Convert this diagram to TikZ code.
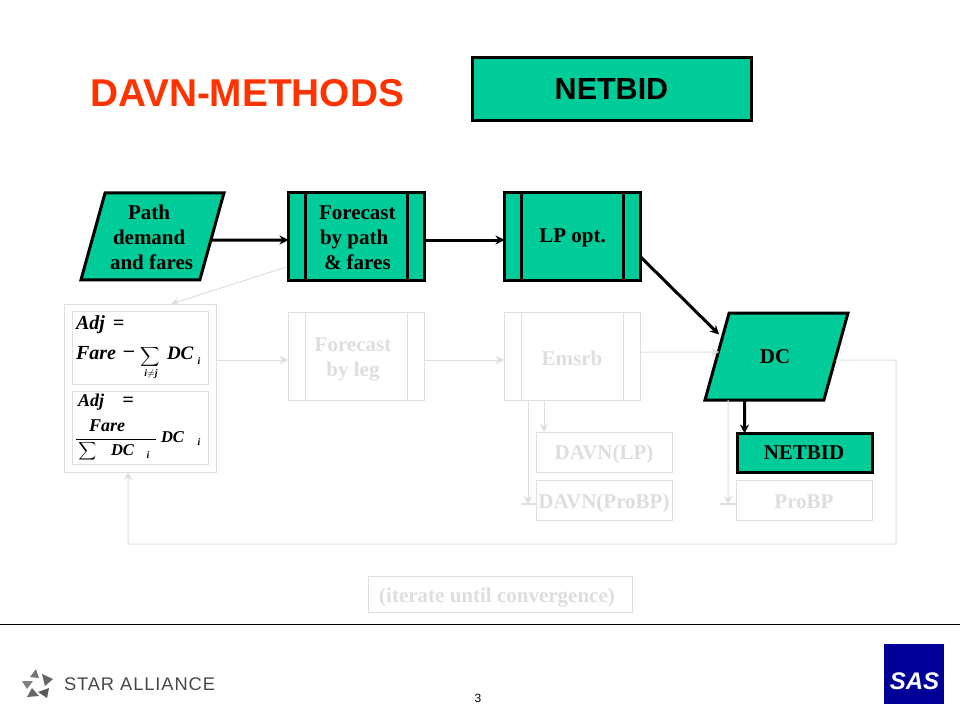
\documentclass[tikz,border=0pt]{standalone}
\usepackage{fontspec}
\setmainfont{Liberation Serif}
\newfontfamily\arialf{Liberation Sans}
\usetikzlibrary{shapes.geometric,arrows.meta,calc}
\definecolor{teal}{HTML}{00CC99}
\definecolor{ghost}{HTML}{DEDEDE}
\definecolor{titlered}{HTML}{FF3300}
\definecolor{sasblue}{HTML}{000099}
\newcommand{\sz}[1]{\fontsize{#1}{25}\selectfont}
\tikzset{
  every node/.style={outer sep=0pt,inner sep=0pt},
  active/.style={draw=black,line width=3pt,fill=teal},
  faded/.style={draw=ghost,line width=1pt,fill=white},
  boxat/.style 2 args={rectangle,minimum width=#1,minimum height=#2},
  procbars/.style={path picture={
    \draw[line width=#1]
      ([xshift=17pt]path picture bounding box.north west) -- ([xshift=17pt]path picture bounding box.south west)
      ([xshift=-17pt]path picture bounding box.north east) -- ([xshift=-17pt]path picture bounding box.south east);}},
  para/.style={trapezium,trapezium left angle=72,trapezium right angle=108,trapezium stretches=true,minimum width=143pt,minimum height=87pt,inner sep=1pt},
  lbl/.style={font=\bfseries\sz{21},align=left},
  glbl/.style={lbl,text=ghost,align=center},
  blackarrow/.style={line width=3pt,-{Stealth[length=9pt,width=9pt]}},
  greyarrow/.style={draw=ghost,line width=1pt,-{Stealth[length=8pt,width=8pt]}},
  greystub/.style={draw=ghost,line width=2pt},
  fm/.style={font=\bfseries\itshape\sz{#1}},
  fm/.default=20,
  logotri/.style={fill=#1,draw=none}
}
\begin{document}
\begin{tikzpicture}[x=1pt,y=-1pt]
\useasboundingbox (0,0) rectangle (960,720);
% title
\node[anchor=center,text=titlered,font=\arialf\bfseries\sz{38.8}] (title) at (247,93) {DAVN-METHODS};
\node[active,boxat={279pt}{63pt}] (topbox) at (612,88.5) {};
\node[font=\arialf\bfseries\sz{30.5}] (toplabel) at (611.5,89) {NETBID};
% active row
\node[para,active] (path) at (152.5,236.3) {\phantom{M}};
\node[lbl,anchor=west] (pathlabel) at (110,237.5) {\hspace*{18pt}Path\\\hspace*{3pt}demand\\and fares};
\node[active,boxat={136pt}{87.5pt},procbars=3pt] (fpath) at (356.5,236.3) {};
\node[lbl,anchor=west] (fpathlabel) at (319,238) {Forecast\\\hspace*{1pt}by path\\\hspace*{5pt}\&\ fares};
\node[active,boxat={136pt}{87.5pt},procbars=3pt] (lp) at (572.5,236.3) {};
\node[lbl] (lplabel) at (572.5,238) {LP opt.};
\node[para,active] (dc) at (776.5,356.5) {\phantom{M}};
\node[lbl] (dclabel) at (775,357) {DC};
\node[active,boxat={135pt}{39pt}] (netbid) at (804.5,453) {};
\node[lbl] (netbidlabel) at (804,453) {NETBID};
% faded boxes
\node[faded,boxat={152pt}{168pt}] (formulas) at (140,388) {};
\node[faded,boxat={136pt}{73pt}] (f1) at (140,347.5) {};
\node[faded,boxat={136pt}{73pt}] (f2) at (140,427.5) {};
\node[faded,boxat={136pt}{88pt},procbars=1pt,draw=ghost] (fleg) at (356,356) {};
\node[glbl] (fleglabel) at (353,359) {Forecast\\by leg};
\node[faded,boxat={136pt}{88pt},procbars=1pt,draw=ghost] (emsrb) at (572,356) {};
\node[glbl] (emsrblabel) at (572,358) {Emsrb};
\node[faded,boxat={136pt}{40pt}] (davnlp) at (604,452) {};
\node[glbl] (davnlplabel) at (604,454.5) {DAVN(LP)};
\node[faded,boxat={136pt}{40pt}] (davnpro) at (604,500) {};
\node[glbl] (davnprolabel) at (604,503) {DAVN(ProBP)};
\node[faded,boxat={136pt}{40pt}] (probp) at (804,500) {};
\node[glbl] (probplabel) at (804,501.5) {ProBP};
\node[faded,boxat={264pt}{36pt}] (iter) at (500,594) {};
\node[glbl] (iterlabel) at (497,598) {(iterate until convergence)};
% formula 1
\node[fm,anchor=west] (a1) at (76,325) {Adj};
\node[fm,anchor=center] (e1) at (118.5,325) {=};
\node[fm,anchor=west] (fa1) at (76,353) {Fare};
\node[fm,anchor=center] (m1) at (129,354) {–};
\node (s1) at (150.5,357) {\scalebox{1.35}{$\displaystyle\sum$}};
\node[fm=10,anchor=center] (ij) at (151,374) {i$\neq$j};
\node[fm=19,anchor=west] (d1) at (167,353) {DC};
\node[fm=10] (i1) at (199,361) {i};
% formula 2
\node[fm=18,anchor=west] (a2) at (78,402) {Adj};
\node[fm,anchor=center] (e2) at (128,402) {=};
\node[fm=18] (fa2) at (107,426) {Fare};
\coordinate (barl) at (76,439);
\coordinate (barr) at (156,439);
\draw[line width=0.8pt] (barl) -- (barr);
\node (s2) at (87.5,451) {\scalebox{1.25}{$\displaystyle\sum$}};
\node[fm=16.5,anchor=west] (d2) at (111,450) {DC};
\node[fm=10] (i2) at (148,455) {i};
\node[fm=16.5,anchor=west] (d3) at (161,437) {DC};
\node[fm=10] (i3) at (199,442) {i};
% faded connectors
\coordinate (loopa) at (896,360);
\coordinate (loopb) at (896,544);
\coordinate (loopc) at (128,544);
\draw[greyarrow] ([xshift=-3pt,yshift=-31pt]fpath.west) -- ([xshift=107pt]formulas.north west);
\draw[greyarrow] ([yshift=28pt]formulas.east) -- ([yshift=-4pt]fleg.west);
\draw[greyarrow] ([yshift=-4pt]fleg.east) -- ([yshift=-4pt]emsrb.west);
\draw[greyarrow] ([yshift=4pt]emsrb.east) -- ([yshift=4.5pt,xshift=2pt]dc.west);
\draw[greyarrow] ([xshift=-28pt]emsrb.south) -- ([xshift=-60pt]davnlp.north);
\draw[greyarrow] ([xshift=-44pt]emsrb.south) -- ([xshift=-76pt,yshift=-4pt]davnpro.center);
\draw[greystub] ([yshift=-4pt]davnpro.west) -- ++(-15,0);
\draw[greyarrow] ([xshift=-48.5pt]dc.south) -- ([xshift=-76pt,yshift=-4pt]probp.center);
\draw[greystub] ([yshift=-4pt]probp.west) -- ++(-16,0);
\draw[greyarrow] ([yshift=-3.5pt]dc.east) -- (loopa) -- (loopb) -- (loopc) -- ([xshift=-12pt]formulas.south);
% active connectors
\draw[blackarrow] ([yshift=-3.7pt]path.east) -- ([yshift=-3.7pt]fpath.west);
\draw[blackarrow] ([yshift=-3.7pt]fpath.east) -- ([yshift=-3.7pt]lp.west);
\draw[blackarrow] ([yshift=-20.5pt]lp.east) -- ([xshift=2pt,yshift=22pt]dc.west);
\draw[blackarrow] ([xshift=-32pt]dc.south) -- ([xshift=-60pt]netbid.north);
% footer
\coordinate (rulel) at (0,624);
\coordinate (ruler) at (960,624);
\draw[line width=1pt] (rulel) -- (ruler);
\node[font=\arialf\sz{12}] (pageno) at (478,698) {3};
\node[anchor=west,text=black!72,font={\arialf\addfontfeature{LetterSpace=5}\sz{18.3}}] (star) at (64,684.5) {STAR ALLIANCE};
\fill[logotri=black!55] (36,669) -- (39,678) -- (30,677) -- cycle;
\fill[logotri=black!60] (42,674) -- (53,679) -- (45,686) -- cycle;
\fill[logotri=black!65] (38,692) -- (49,688) -- (47,698) -- cycle;
\fill[logotri=black!60] (27,697) -- (32,688) -- (39,696) -- cycle;
\fill[logotri=black!50] (22,681) -- (33,681) -- (27,689) -- cycle;
\node[fill=sasblue,minimum width=60pt,minimum height=60pt] (sas) at (914,674) {};
\node[text=white,font=\arialf\bfseries\itshape\sz{24}] (saslabel) at (914.5,681) {SAS};
\end{tikzpicture}
\end{document}
